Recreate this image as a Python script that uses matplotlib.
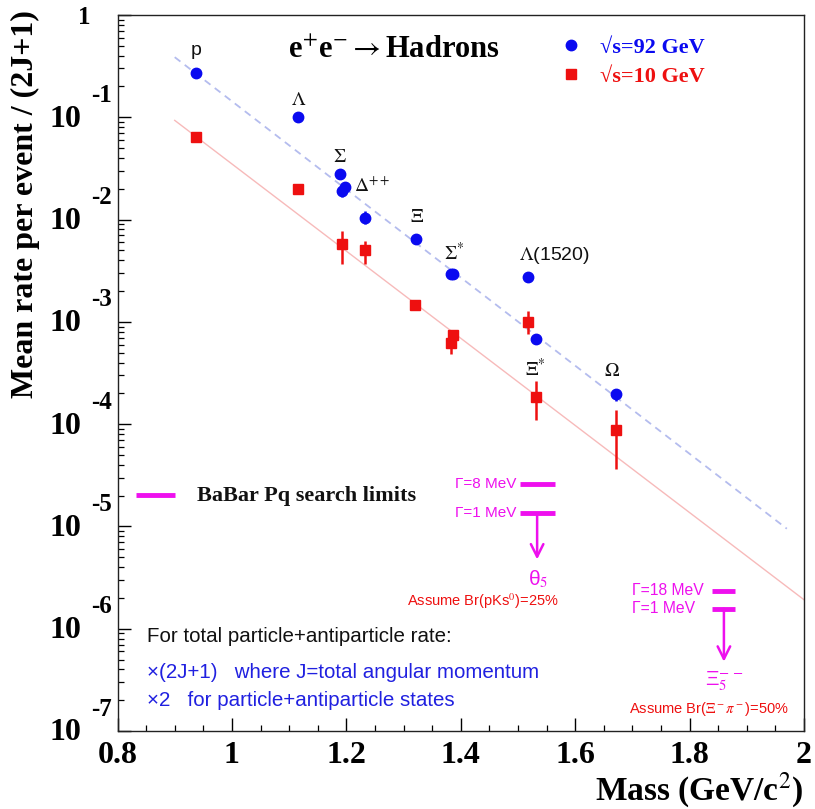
import matplotlib
matplotlib.use("Agg")
import matplotlib.pyplot as plt
import matplotlib.transforms as mtransforms
from matplotlib.ticker import MultipleLocator, LogLocator, NullFormatter
import numpy as np

plt.rcParams['mathtext.fontset'] = 'stix'

# e+e- -> hadrons, sqrt(s)=92 GeV (circles)
mass_92 = [0.938, 1.116, 1.189, 1.192, 1.197, 1.232, 1.321, 1.383, 1.387, 1.517, 1.531, 1.672]
rate_92 = [0.270, 0.100, 0.0276, 0.0192, 0.0206, 0.01047, 0.00652, 0.00296, 0.00296, 0.00276, 0.000681, 0.000197]
lo_92 = [0.270, 0.100, 0.0276, 0.0168, 0.0206, 0.00914, 0.00652, 0.00296, 0.00296, 0.00276, 0.000681, 0.000168]
hi_92 = [0.270, 0.100, 0.0276, 0.0215, 0.0206, 0.01225, 0.00652, 0.00296, 0.00296, 0.00276, 0.000681, 0.000220]

# sqrt(s)=10 GeV (squares)
mass_10 = [0.937, 1.115, 1.192, 1.232, 1.320, 1.383, 1.386, 1.517, 1.531, 1.672]
rate_10 = [0.0637, 0.0201, 0.00582, 0.00508, 0.00147, 0.000622, 0.000746, 0.00100, 0.000184, 8.73e-5]
lo_10 = [0.0637, 0.0201, 0.00371, 0.00371, 0.00140, 0.000485, 0.000582, 0.000762, 0.000109, 3.62e-5]
hi_10 = [0.0637, 0.0201, 0.00780, 0.00622, 0.00155, 0.000697, 0.000816, 0.00128, 0.000264, 0.000137]

# exponential fits (end points)
fit_92_x = [0.90, 1.97]
fit_92_y = [0.387, 9.5e-6]
fit_10_x = [0.90, 2.00]
fit_10_y = [0.0933, 1.92e-6]

# particle labels: name, mass, rate (anchor), pixel offset
labels = [
    ('p', 0.938, 0.270, 0, 23),
    (r'$\Lambda$', 1.116, 0.100, 0, 17),
    (r'$\Sigma$', 1.189, 0.0276, 0, 17),
    (r'$\Delta^{++}$', 1.232, 0.01047, 8, 31),
    (r'$\Xi$', 1.321, 0.00652, 1, 21),
    (r'$\Sigma^{*}$', 1.383, 0.00296, 3, 21),
    (r'$\Lambda$(1520)', 1.517, 0.00276, 27, 21),
    (r'$\Xi^{*}$', 1.531, 0.000681, 0, -30),
    (r'$\Omega$', 1.672, 0.000197, -4, 23),
]

# BaBar pentaquark search limits
pq_mass = [1.5335, 1.860]
pq_halfwidth = [0.0305, 0.020]
pq_wide = [2.58e-5, 2.36e-6]
pq_narrow = [1.34e-5, 1.57e-6]
pq_wide_txt = ['Γ=8 MeV', 'Γ=18 MeV']
pq_narrow_txt = ['Γ=1 MeV', 'Γ=1 MeV']
pq_txt_left = [1.3895, 1.6987]
pq_txt_size = [11, 11.3]
pq_arrow_len = [46, 53]
pq_name = [r'θ$_5$', r'Ξ$_{5}^{-\,-}$']
pq_name_dy = [-66, -73]
pq_br = [r'Assume Br(pKs$^0$)=25%', r'Assume Br($\Xi^-\pi^-$)=50%']
pq_br_dx = [-54, -15]
pq_br_dy = [-88, -100]

BLUE = '#0a0af0'
RED = '#ee1010'
MAG = '#ee10ee'
SERIF = ['Liberation Serif', 'DejaVu Serif']
SANS = ['Liberation Sans', 'DejaVu Sans']

fig = plt.figure(figsize=(8.15, 8.09), dpi=100)
L, R, T, B = 117.5, 804, 15, 731
ax = fig.add_axes([L / 815, 1 - B / 809, (R - L) / 815, (B - T) / 809])


def at(px, py):
    # pixel position in the picture -> axes fraction
    return (px - L) / (R - L), (B - py) / (B - T)


ax.set_yscale('log')
ax.set_xlim(0.8, 2.0)
ax.set_ylim(1e-7, 1)

# fit lines
ax.plot(fit_92_x, fit_92_y, color='#b4bcee', lw=1.3, dashes=(4, 3), zorder=1)
ax.plot(fit_10_x, fit_10_y, color='#f7baba', lw=1.0, zorder=1)

# data with error bars
y10 = np.array(rate_10)
ax.errorbar(mass_10, rate_10, yerr=[y10 - np.array(lo_10), np.array(hi_10) - y10],
            fmt='s', color=RED, ms=7.5, elinewidth=1.8, capsize=0, zorder=3)
y92 = np.array(rate_92)
ax.errorbar(mass_92, rate_92, yerr=[y92 - np.array(lo_92), np.array(hi_92) - y92],
            fmt='o', color=BLUE, ms=7.5, elinewidth=1.8, capsize=0, zorder=4)

for name, m, r, dx, dy in labels:
    ax.annotate(name, (m, r), xytext=(dx, dy), textcoords='offset pixels',
                ha='center', va='center', fontsize=14, family=SANS, color='#111111')

# pentaquark limits
for i in range(len(pq_mass)):
    x0, x1 = pq_mass[i] - pq_halfwidth[i], pq_mass[i] + pq_halfwidth[i]
    ax.plot([x0, x1], [pq_wide[i]] * 2, color=MAG, lw=3.5, solid_capstyle='butt')
    ax.plot([x0, x1], [pq_narrow[i]] * 2, color=MAG, lw=3.5, solid_capstyle='butt')
    ax.text(pq_txt_left[i], pq_wide[i], pq_wide_txt[i], ha='left', va='center',
            fontsize=pq_txt_size[i], family=SANS, color=MAG)
    ax.text(pq_txt_left[i], pq_narrow[i], pq_narrow_txt[i], ha='left', va='center',
            fontsize=pq_txt_size[i], family=SANS, color=MAG)
    ax.annotate('', xy=(pq_mass[i], pq_narrow[i]), xytext=(0, -pq_arrow_len[i]),
                textcoords='offset pixels',
                arrowprops=dict(arrowstyle='<-, head_length=0.9, head_width=0.45',
                                color=MAG, lw=1.8, shrinkA=0, shrinkB=0))
    ax.annotate(pq_name[i], (pq_mass[i], pq_narrow[i]), xytext=(1, pq_name_dy[i]),
                textcoords='offset pixels', ha='center', va='center', fontsize=15,
                family=SANS, color=MAG)
    ax.annotate(pq_br[i], (pq_mass[i], pq_narrow[i]), xytext=(pq_br_dx[i], pq_br_dy[i]),
                textcoords='offset pixels', ha='center', va='center', fontsize=10.5,
                family=SANS, color=RED)

# legend for the search limits
ax.plot(*zip(at(136, 495), at(175, 495)), transform=ax.transAxes, color=MAG, lw=3.5,
        solid_capstyle='butt')
ax.text(*at(197, 496), 'BaBar Pq search limits', transform=ax.transAxes, ha='left', va='center',
        fontsize=16, family=SERIF, fontweight='bold', color='#111111')

# legend for the two energies
leg = ax.legend([plt.Line2D([], [], ls='', marker='o', color=BLUE, ms=7.5),
                 plt.Line2D([], [], ls='', marker='s', color=RED, ms=7)],
                ['√s=92 GeV', '√s=10 GeV'], loc='upper left', bbox_to_anchor=at(562, 37),
                frameon=False, handlelength=0.8, handletextpad=0.9, labelspacing=0.4,
                prop=dict(family=SERIF, weight='bold', size=16), borderaxespad=0, borderpad=0)
for txt, c in zip(leg.get_texts(), [BLUE, RED]):
    txt.set_color(c)

ax.text(*at(288, 50), r'e$^{+}$e$^{-}$$\rightarrow$Hadrons', transform=ax.transAxes, ha='left',
        va='center', fontsize=22, family=SERIF, fontweight='bold')

# normalisation notes
ax.text(*at(147, 637), 'For total particle+antiparticle rate:', transform=ax.transAxes,
        ha='left', va='center', fontsize=14.8, family=SANS, color='#111111')
ax.text(*at(147, 672), '×(2J+1)   where J=total angular momentum', transform=ax.transAxes,
        ha='left', va='center', fontsize=14.8, family=SANS, color='#2020e0')
ax.text(*at(147, 700), '×2   for particle+antiparticle states', transform=ax.transAxes,
        ha='left', va='center', fontsize=14.8, family=SANS, color='#2020e0')

# axes styling (ticks inside, bottom/left only)
for s in ax.spines.values():
    s.set_linewidth(1.0)
    s.set_color('#222222')
ax.xaxis.set_major_locator(MultipleLocator(0.2))
ax.xaxis.set_minor_locator(MultipleLocator(0.05))
ax.yaxis.set_major_locator(LogLocator(base=10, numticks=20))
ax.yaxis.set_minor_locator(LogLocator(base=10, subs=np.arange(2, 10), numticks=20))
ax.yaxis.set_major_formatter(NullFormatter())
ax.yaxis.set_minor_formatter(NullFormatter())
ax.tick_params(which='both', direction='in', top=False, right=False)
ax.tick_params(which='major', length=9.5, width=1.0)
ax.tick_params(which='minor', length=4.5, width=0.9)
ax.tick_params(axis='x', which='major', pad=7, labelsize=23)
ax.set_xticks([0.8, 1.0, 1.2, 1.4, 1.6, 1.8, 2.0])
ax.set_xticklabels(['0.8', '1', '1.2', '1.4', '1.6', '1.8', '2'], family=SERIF, fontweight='bold')

# ROOT-style decade labels: "10" with exponent above
ytr = ax.get_yaxis_transform()
for e in range(-7, 1):
    if e == 0:
        t = mtransforms.offset_copy(ytr, fig=fig, x=-33, y=-2, units='dots')
        ax.text(0, 1.0, '1', transform=t, ha='center', va='center', fontsize=18,
                family=SERIF, fontweight='bold')
        continue
    t1 = mtransforms.offset_copy(ytr, fig=fig, x=-52, y=-2, units='dots')
    ax.text(0, 10.0 ** e, '10', transform=t1, ha='center', va='center', fontsize=23,
            family=SERIF, fontweight='bold')
    t2 = mtransforms.offset_copy(ytr, fig=fig, x=-16, y=22, units='dots')
    ax.text(0, 10.0 ** e, str(e), transform=t2, ha='center', va='center', fontsize=18,
            family=SERIF, fontweight='bold')

fig.text(25 / 815, 1 - 10 / 809, 'Mean rate per event / (2J+1)', rotation=90, ha='center',
         va='top', fontsize=23, family=SERIF, fontweight='bold')
fig.text(803 / 815, 1 - 790 / 809, r'Mass (GeV/c$^{2}$)', ha='right', va='center',
         fontsize=24, family=SERIF, fontweight='bold')

fig.savefig('out.png', dpi=100)
